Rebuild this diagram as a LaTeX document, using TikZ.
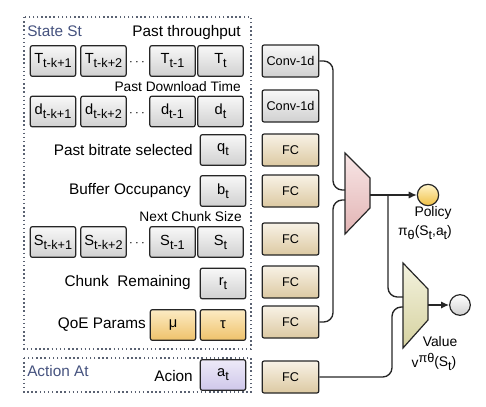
\documentclass[tikz,border=0pt]{standalone}
\usepackage{fontspec}
\setmainfont{Liberation Sans}
\usetikzlibrary{arrows.meta}

\definecolor{greytop}{HTML}{F8F8F8}
\definecolor{greybot}{HTML}{D0D0D0}
\definecolor{fctop}{HTML}{F8F2E6}
\definecolor{fcbot}{HTML}{DCC9A2}
\definecolor{qoetop}{HTML}{FCEBC4}
\definecolor{qoebot}{HTML}{EFC26A}
\definecolor{acttop}{HTML}{EDEAF8}
\definecolor{actbot}{HTML}{CFC7EA}
\definecolor{poltop}{HTML}{F8E6E6}
\definecolor{polbot}{HTML}{E2B4B4}
\definecolor{valtop}{HTML}{F3F2DE}
\definecolor{valbot}{HTML}{D6D2A0}
\definecolor{goldtop}{HTML}{FFF4C8}
\definecolor{goldbot}{HTML}{EFBF45}
\definecolor{framecol}{HTML}{5A6272}
\definecolor{titlecol}{HTML}{45527E}

\newcommand{\lowpart}[1]{\raisebox{-3pt}{\fontsize{9.5}{10}\selectfont #1}}
\newcommand{\highpart}[1]{\raisebox{4pt}{\fontsize{9.5}{10}\selectfont #1}}

\tikzset{
  cell/.style={draw=black!85, line width=0.9pt, rounded corners=1.5pt, inner sep=0pt,
    minimum width=34pt, minimum height=23pt, font=\fontsize{11}{12}\selectfont},
  greycell/.style={cell, top color=greytop, bottom color=greybot},
  qoecell/.style={cell, top color=qoetop, bottom color=qoebot},
  actcell/.style={cell, top color=acttop, bottom color=actbot},
  netbox/.style={draw=black!85, line width=0.9pt, rounded corners=1.5pt, inner sep=0pt,
    minimum width=42.5pt, minimum height=24pt, font=\fontsize{9.5}{11}\selectfont},
  convbox/.style={netbox, top color=greytop, bottom color=greybot},
  fcbox/.style={netbox, top color=fctop, bottom color=fcbot},
  feat/.style={font=\fontsize{11.5}{13}\selectfont, anchor=east, inner sep=0pt},
  smallfeat/.style={feat, font=\fontsize{10.3}{12}\selectfont},
  framebox/.style={draw=framecol, line width=1pt, dash pattern=on 1.1pt off 2pt},
  wire/.style={draw=black!85, line width=1pt, rounded corners=7pt},
  tip/.style={-{Latex[length=6pt,width=5.5pt]}},
}

\begin{document}
\begin{tikzpicture}[x=0.75pt,y=-0.75pt]
\useasboundingbox (0,0) rectangle (486,407);

% dotted groups
\draw[framebox] (24,17) rectangle (251,349);
\draw[framebox] (24,358) rectangle (251,392);
\node[anchor=west, inner sep=0pt, text=titlecol, font=\fontsize{11.5}{13}\selectfont] (statetitle) at (27,31) {State St};
\node[anchor=west, inner sep=0pt, text=titlecol, font=\fontsize{11.5}{13}\selectfont] (actiontitle) at (27,371) {Action At};

% history rows
\node[feat] (thrlbl) at (241,33) {Past throughput};
\node[smallfeat] (dllbl) at (241,87) {Past Download Time};
\node[smallfeat] (cslbl) at (242,217) {Next Chunk Size};
\foreach \v/\y/\n in {T/61/thr, d/111.5/dl, S/242/cs} {
  \node[greycell] (\n1) at (53,\y) {\v\lowpart{t-k+1}};
  \node[greycell] (\n2) at (103.5,\y) {\v\lowpart{t-k+2}};
  \node (\n dots) at (137,\y+2) {$\cdots$};
  \node[greycell] (\n3) at (172.5,\y) {\v\lowpart{t-1}};
  \node[greycell] (\n4) at (220.5,\y) {\v\lowpart{t}};
}

% single inputs
\node[feat] (qlbl) at (193,150) {Past bitrate selected};
\node[greycell] (qt) at (223,150) {q\lowpart{t}};
\node[feat] (blbl) at (191,191) {Buffer Occupancy};
\node[greycell] (bt) at (223,191) {b\lowpart{t}};
\node[feat] (rlbl) at (191,283) {Chunk\ \ Remaining};
\node[greycell] (rt) at (223,283.5) {r\lowpart{t}};
\node[feat] (qoelbl) at (146,325) {QoE Params};
\node[qoecell] (mu) at (173,325) {μ};
\node[qoecell] (tau) at (223,325) {τ};
\node[feat] (albl) at (193,376) {Acion};
\node[actcell] (at) at (223,375) {a\lowpart{t}};

% feature layers
\node[convbox] (conv1) at (290.5,61) {Conv-1d};
\node[convbox] (conv2) at (290.5,106) {Conv-1d};
\foreach \n/\y in {fc1/150, fc2/191, fc3/239, fc4/282, fc5/322, fc6/377}
  \node[fcbox] (\n) at (290.5,\y) {FC};

% heads
\draw[black!85, line width=0.9pt, top color=poltop, bottom color=polbot]
  (345,153) -- (370,178) -- (370,208) -- (345,234) -- cycle;
\draw[black!85, line width=0.9pt, top color=valtop, bottom color=valbot]
  (403,263) -- (428,289) -- (428,320) -- (403,348) -- cycle;
\coordinate (polin1) at (345,190);
\coordinate (polin2) at (345,200);
\coordinate (polout) at (370,195);
\coordinate (split) at (388,195);
\coordinate (valin1) at (403,297);
\coordinate (valin2) at (403,307);
\coordinate (valout) at (428,305);

\node[circle, draw=black!85, line width=0.9pt, minimum size=16pt, inner sep=0pt,
  top color=goldtop, bottom color=goldbot] (policy) at (428,195) {};
\node[circle, draw=black!85, line width=0.9pt, minimum size=15.5pt, inner sep=0pt,
  top color=white, bottom color=greybot] (value) at (460,305) {};
\node[font=\fontsize{10.4}{12}\selectfont, inner sep=0pt] (policylbl) at (433,213) {Policy};
\node[font=\fontsize{10.4}{12}\selectfont, inner sep=0pt] (policyfn) at (425,233)
  {π\lowpart{θ}(S\lowpart{t},a\lowpart{t})};
\node[font=\fontsize{10.4}{12}\selectfont, inner sep=0pt] (valuelbl) at (440,342) {Value};
\node[font=\fontsize{10.4}{12}\selectfont, inner sep=0pt] (valuefn) at (434,362)
  {v\highpart{πθ}\raisebox{1pt}{(S\lowpart{t})}};

% connectors
\draw[wire] (conv1.east) -- (333,61) -- (333,190) -- (polin1);
\draw[wire] (fc5.east) -- (333,322) -- (333,200) -- (polin2);
\draw[wire,tip] (polout) -- (policy.west);
\draw[wire] (split) -- (388,297) -- (valin1);
\draw[wire] (fc6.east) -- (392,377) -- (392,307) -- (valin2);
\draw[wire,tip] (valout) -- (value.west);

\end{tikzpicture}
\end{document}
